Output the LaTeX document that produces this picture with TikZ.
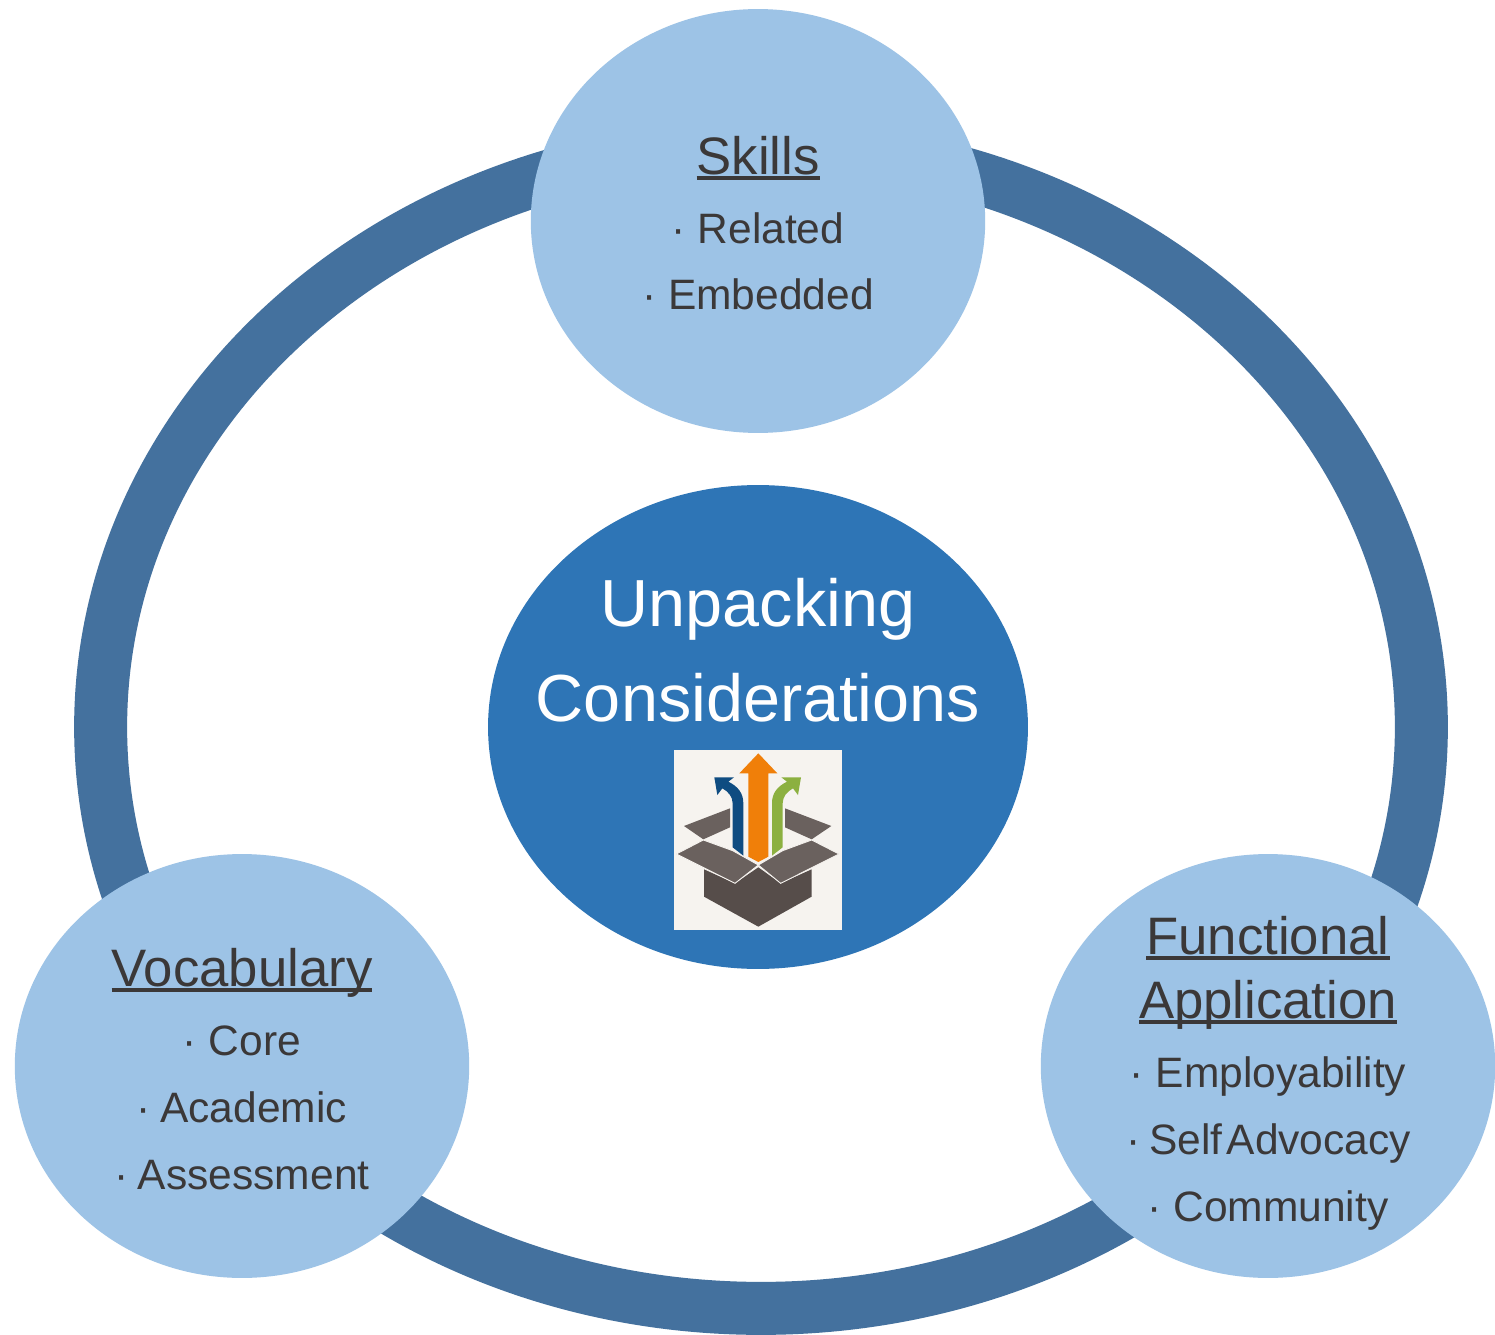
\documentclass[tikz,border=0pt]{standalone}
\usepackage{fontspec}
\setmainfont{Liberation Sans}
\usetikzlibrary{shapes.geometric}
\definecolor{ringc}{HTML}{44719E}
\definecolor{lightc}{HTML}{9DC3E6}
\definecolor{midc}{HTML}{2E75B6}
\definecolor{inkc}{HTML}{3B3838}
\definecolor{iconbg}{HTML}{F6F3EF}
\definecolor{flapc}{HTML}{6A615E}
\definecolor{bodyc}{HTML}{564D4A}
\definecolor{arrowO}{HTML}{F07F09}
\definecolor{arrowB}{HTML}{0F4C81}
\definecolor{arrowG}{HTML}{8CB040}
\newcommand{\ulhead}[1]{\setbox0=\hbox{#1}\rlap{\color{inkc}\rule[-3.2pt]{\wd0}{2.1pt}}\box0}
\tikzset{
  x=0.02cm,y=-0.02cm,
  bubble/.style={ellipse,fill=lightc,inner sep=0pt,minimum width=9.09cm,minimum height=8.48cm},
  hub/.style={ellipse,fill=midc,inner sep=0pt,minimum width=10.8cm,minimum height=9.68cm},
  headtxt/.style={anchor=base,inner sep=0pt,text=inkc,font=\fontsize{30}{36}\selectfont},
  itemtxt/.style={anchor=base,inner sep=0pt,text=inkc,font=\fontsize{24.2}{29}\selectfont},
  hubtxt/.style={anchor=base,inner sep=0pt,text=white,font=\fontsize{37.9}{45}\selectfont},
  flap/.style={fill=flapc,draw=iconbg,line width=0.5pt,line join=miter},
}
\begin{document}
\begin{tikzpicture}
\useasboundingbox (0,0) rectangle (1495,1335);
\fill[white] (0,0) rectangle (1495,1335);
\draw[ringc,line width=1.06cm] (761,727) ellipse [x radius=13.21cm,y radius=11.63cm];
\node[bubble] (skills) at (758,221) {};
\node[bubble] (vocab) at (242,1066) {};
\node[bubble] (func) at (1268,1066) {};
\node[hub] (hub) at (758,727) {};
\node[headtxt] (t1) at (758,174) {\ulhead{Skills}};
\node[itemtxt] (t2) at (758,243) {· Related};
\node[itemtxt] (t3) at (758,309) {· Embedded};
\node[headtxt] (t4) at (242,986) {\ulhead{Vocabulary}};
\node[itemtxt] (t5) at (242,1055) {· Core};
\node[itemtxt] (t6) at (242,1122) {· \kern-1.4pt Academic};
\node[itemtxt] (t7) at (242,1189) {· \kern-1.4pt Assessment};
\node[headtxt] (t8) at (1268,954) {\ulhead{Functional}};
\node[headtxt] (t9) at (1268,1018) {\ulhead{Application}};
\node[itemtxt] (t10) at (1268,1087) {· Employability};
\node[itemtxt] (t11) at (1269,1154) {· \kern-2pt Self\kern-4.4pt\ Advocacy};
\node[itemtxt] (t12) at (1268,1221) {· Community};
\node[hubtxt] (t13) at (758,626) {Unpacking};
\node[hubtxt] (t14) at (758,721) {Considerations};
\begin{scope}[shift={(660,740)},x=0.02cm/3,y=-0.02cm/3]
\fill[iconbg] (42,30) rectangle (546,570);
% back flaps
\fill[flapc] (72,258) -- (210,205) -- (210,262) -- (130,298) -- cycle;
\fill[flapc] (375,205) -- (514,258) -- (455,298) -- (375,262) -- cycle;
% body
\fill[bodyc] (132,388) -- (225,430) -- (295,382) -- (362,430) -- (455,388) -- (455,470) -- (295,560) -- (132,470) -- cycle;
% front flaps
\path[flap] (49,342) -- (130,300) -- (218,332) -- (295,375) -- (225,430) -- cycle;
\path[flap] (537,342) -- (455,300) -- (368,332) -- (295,375) -- (362,430) -- cycle;
% arrows
\fill[arrowB] (218,322) -- (218,190) .. controls (218,170) and (205,155) .. (187,145) -- (172,165) -- (163,112) -- (222,112) -- (205,125) .. controls (235,140) and (250,160) .. (250,190) -- (250,347) -- cycle;
\fill[arrowG] (368,322) -- (368,190) .. controls (368,170) and (381,155) .. (399,145) -- (414,165) -- (423,112) -- (364,112) -- (381,125) .. controls (351,140) and (336,160) .. (336,190) -- (336,347) -- cycle;
\fill[arrowO] (295,40) -- (352,100) -- (325,100) -- (325,350) -- (295,366) -- (265,350) -- (265,100) -- (238,100) -- cycle;
\end{scope}
\end{tikzpicture}
\end{document}
